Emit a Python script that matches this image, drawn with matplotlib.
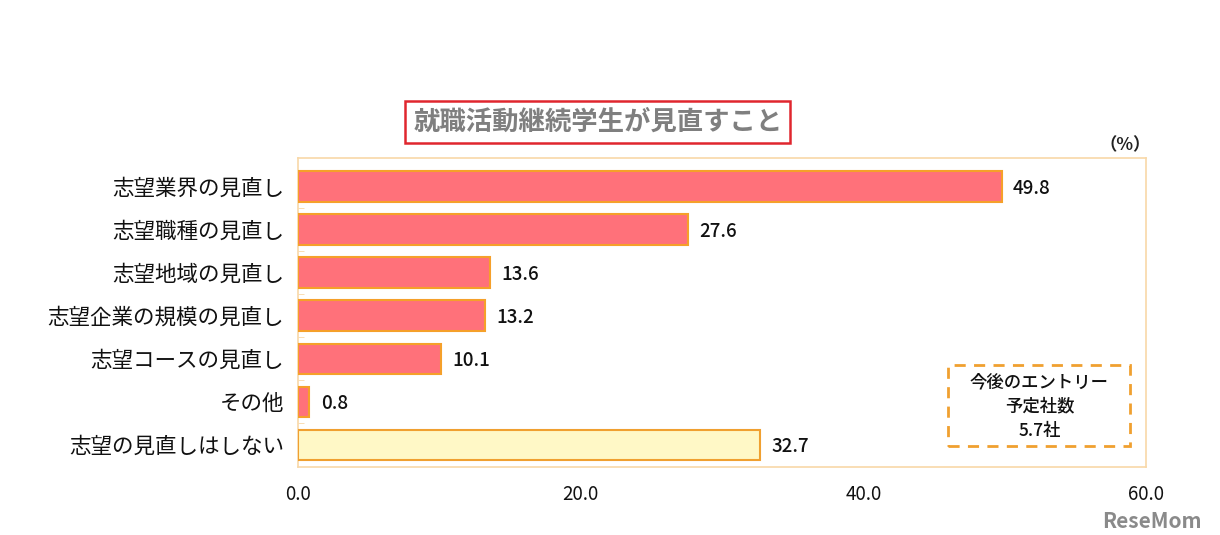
import numpy as np
import matplotlib
matplotlib.use("Agg")
import matplotlib.pyplot as plt
from matplotlib.patches import FancyBboxPatch

plt.rcParams['font.family'] = ['Noto Sans CJK JP', 'DejaVu Sans']

categories = ['志望業界の見直し', '志望職種の見直し', '志望地域の見直し', '志望企業の規模の見直し',
              '志望コースの見直し', 'その他', '志望の見直しはしない']
values = [49.8, 27.6, 13.6, 13.2, 10.1, 0.8, 32.7]
xticks = [0, 20, 40, 60]
title = '就職活動継続学生が見直すこと'
note_lines = ['今後のエントリー', '予定社数', '5.7社']

fig = plt.figure(figsize=(12.2, 5.35), dpi=100)
ax = fig.add_axes([0.2443, 0.127, 0.695, 0.5776])

y = np.arange(len(categories))
fills = ['#FF717A'] * (len(categories) - 1) + ['#FFF8C6']
edges = ['#F5A02A'] * (len(categories) - 1) + ['#F0A030']
ax.barh(y, values, height=0.7, color=fills, edgecolor=edges, linewidth=1.5, zorder=3)

for yi, v in zip(y, values):
    ax.text(v + 0.8, yi + 0.05, f'{v:.1f}', va='center', ha='left', fontsize=13.5,
            color='#111111', fontweight='medium')

ax.set_xlim(0, 60)
ax.set_ylim(6.52, -0.66)
ax.set_yticks(y)
ax.set_yticklabels(categories, fontsize=15.5, color='#111111')
ax.set_yticks(np.arange(0.5, len(categories) - 1, 1), minor=True)
ax.tick_params(axis='y', which='major', length=0, pad=10)
ax.tick_params(axis='y', which='minor', length=4, direction='in', color='#F8D8A8')
ax.set_xticks(xticks)
ax.set_xticklabels([f'{t:.1f}' for t in xticks], fontsize=13.5, color='#111111')
ax.tick_params(axis='x', length=0, pad=12)
for s in ax.spines.values():
    s.set_color('#F8D8A8')
    s.set_linewidth(1.2)

# title box
fig.text(0.490, 0.772, title, ha='center', va='center', fontsize=19, fontweight='bold', color='#7F7F7F',
         bbox=dict(boxstyle='square,pad=0.3', facecolor='white', edgecolor='#E0262E', linewidth=1.8))
fig.text(0.922, 0.728, '（%）', ha='center', va='center', fontsize=12.5, fontweight='bold', color='#222222')

# dashed note box
box = FancyBboxPatch((0.777, 0.166), 0.149, 0.151, boxstyle='square,pad=0', transform=fig.transFigure,
                     facecolor='white', edgecolor='#F0A030', linewidth=2, linestyle=(0, (4, 3)), zorder=5)
fig.patches.append(box)
for i, line in enumerate(note_lines):
    fig.text(0.852, 0.285 - i * 0.045, line, ha='center', va='center', fontsize=12.5, color='#111111',
             fontweight='medium', zorder=6)

fig.text(0.985, 0.005, 'ReseMom', ha='right', va='bottom', fontsize=15, fontweight='bold', color='#8A8A8A')

fig.savefig('out.png', dpi=100, facecolor='white')
